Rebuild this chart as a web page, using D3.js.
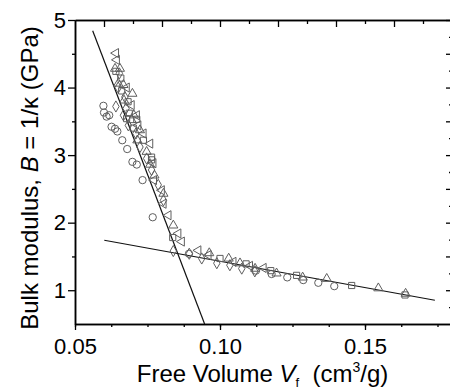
<!DOCTYPE html>
<html>
<head>
<meta charset="utf-8">
<script src="https://d3js.org/d3.v7.min.js"></script>
<style>
body { margin: 0; background: #fff; }
svg { display: block; font-family: "Liberation Sans", Arial, sans-serif; }
.pt { fill: #fff; fill-opacity: 0; stroke: #5e5e5e; stroke-width: 1; }
</style>
</head>
<body>
<div id="chart"></div>
<script>
// data: [free volume, bulk modulus]
var circleData = [[0.0598,3.73],[0.0600,3.63],[0.0609,3.57],[0.0618,3.59],[0.0626,3.42],[0.0638,3.39],
  [0.0646,3.35],[0.0663,3.22],[0.0680,3.09],[0.0698,2.90],[0.0713,2.86],[0.0733,2.63],[0.0768,2.08],
  [0.0893,1.54],[0.1124,1.29],[0.1178,1.24],[0.1232,1.19],[0.1287,1.15],[0.1339,1.11],[0.1394,1.06]];
var upTriData = [[0.0638,4.28],[0.0655,4.28],[0.0649,4.06],[0.0667,4.04],[0.0698,3.91],[0.0669,3.81],
  [0.0703,3.59],[0.0695,3.52],[0.0724,3.37],[0.0715,3.22],[0.0747,3.05],[0.0759,2.86],[0.0774,2.70],
  [0.0805,2.43],[0.0839,1.96],[0.0963,1.55],[0.1030,1.47],[0.1069,1.40],[0.1121,1.32],[0.1195,1.25],
  [0.1285,1.19],[0.1368,1.17],[0.1546,1.03],[0.1640,0.95]];
var leftTriData = [[0.0641,4.51],[0.0644,4.41],[0.0678,4.00],[0.0695,3.74],[0.0713,3.59],[0.0718,3.44],
  [0.0736,3.32],[0.0759,3.17],[0.0770,2.88],[0.0772,2.63],[0.0799,2.48],[0.0805,2.28],[0.0822,2.11],
  [0.0856,1.84],[0.0868,1.72],[0.0925,1.59],[0.0960,1.52],[0.1046,1.42],[0.1103,1.36],[0.1150,1.33]];
var diamondData = [[0.0641,3.72],[0.0653,4.21],[0.0649,4.00],[0.0672,3.86],[0.0676,3.69],[0.0667,3.59],
  [0.0684,3.44],[0.0710,3.32],[0.0724,3.12],[0.0747,2.95],[0.0764,2.78],[0.0787,2.56],[0.0805,2.33],
  [0.0839,1.58],[0.0894,1.54],[0.0937,1.47],[0.0989,1.40],[0.1034,1.37],[0.1075,1.32],[0.1120,1.28]];
var squareData = [[0.0641,4.24],[0.0658,4.14],[0.0661,3.95],[0.0683,3.79],[0.0687,3.62],[0.0678,3.54],
  [0.0713,3.53],[0.0701,3.40],[0.0736,3.22],[0.0764,2.97],[0.0764,2.93],[0.0837,1.78],[0.1000,1.47],
  [0.1090,1.39],[0.1175,1.29],[0.1264,1.22],[0.1454,1.07],[0.1638,0.93]];
var steepLine = [[0.0561,4.84],[0.0947,0.5]];
var flatLine = [[0.0601,1.74],[0.1741,0.852]];
var xTicks = [0.05, 0.10, 0.15];
var yTicks = [1, 2, 3, 4, 5];

var W = 450, H = 389;
var margin = {top: 20, left: 75},
    width = 377, height = 304;

var svg = d3.select("#chart").append("svg")
  .attr("width", W).attr("height", H);

var x = d3.scaleLinear().domain([0.05, 0.18]).range([0, width]),
    y = d3.scaleLinear().domain([0.5, 5]).range([height, 0]);

var g = svg.append("g")
  .attr("transform", "translate(" + margin.left + "," + margin.top + ")");

function styleAxis(sel) {
  sel.select(".domain").attr("stroke", "#000").attr("stroke-width", 1.5);
  sel.selectAll("line").attr("stroke", "#000").attr("stroke-width", 1.3);
  sel.selectAll("text").attr("fill", "#000").style("font-size", "22px")
    .style("font-family", '"Liberation Sans", Arial, sans-serif');
}

// minor ticks first
g.append("g").attr("transform", "translate(0," + height + ")")
  .call(d3.axisBottom(x).tickValues(d3.range(0.05, 0.1801, 0.0125)).tickSize(3).tickFormat("").tickSizeOuter(0))
  .call(styleAxis);
g.append("g")
  .call(d3.axisLeft(y).tickValues(d3.range(1.5, 5, 1)).tickSize(3).tickFormat("").tickSizeOuter(0))
  .call(styleAxis);

g.append("g").attr("transform", "translate(0," + height + ")")
  .call(d3.axisBottom(x).tickValues(xTicks).tickSize(6).tickPadding(8).tickSizeOuter(0)
    .tickFormat(d3.format(".2f")))
  .call(styleAxis);
g.append("g")
  .call(d3.axisLeft(y).tickValues(yTicks).tickSize(7).tickPadding(2).tickSizeOuter(0)
    .tickFormat(d3.format("d")))
  .call(styleAxis);

// top axis (ticks inward)
g.append("g")
  .call(d3.axisBottom(x).tickValues(d3.range(0.06, 0.1801, 0.02)).tickSize(7).tickFormat("").tickSizeOuter(0))
  .call(styleAxis);
g.append("g")
  .call(d3.axisBottom(x).tickValues(d3.range(0.07, 0.1801, 0.02)).tickSize(4).tickFormat("").tickSizeOuter(0))
  .call(styleAxis);

// right axis (ticks inward)
g.append("g").attr("transform", "translate(" + width + ",0)")
  .call(d3.axisLeft(y).tickValues(d3.range(1, 5.01, 0.5)).tickSize(6).tickFormat("").tickSizeOuter(0))
  .call(styleAxis);
g.append("g").attr("transform", "translate(" + width + ",0)")
  .call(d3.axisLeft(y).tickValues(d3.range(0.75, 5, 0.5)).tickSize(3).tickFormat("").tickSizeOuter(0))
  .call(styleAxis);

// fit lines
var line = d3.line().x(function(d) { return x(d[0]); }).y(function(d) { return y(d[1]); });
[steepLine, flatLine].forEach(function(l) {
  g.append("path").attr("d", line(l)).attr("fill", "none")
    .attr("stroke", "#111").attr("stroke-width", 1.2);
});

// markers
var series = [
  {data: circleData, sym: d3.symbolCircle, size: 42, rot: 0},
  {data: upTriData, sym: d3.symbolTriangle, size: 36, rot: 0},
  {data: leftTriData, sym: d3.symbolTriangle, size: 36, rot: -90},
  {data: diamondData, sym: d3.symbolDiamond, size: 36, rot: 0},
  {data: squareData, sym: d3.symbolSquare, size: 38, rot: 0}
];
series.forEach(function(s) {
  g.selectAll(null).data(s.data).enter().append("path")
    .attr("class", "pt")
    .attr("d", d3.symbol().type(s.sym).size(s.size))
    .attr("transform", function(d) {
      return "translate(" + x(d[0]) + "," + y(d[1]) + ") rotate(" + s.rot + ")";
    });
});

// axis titles
svg.append("text")
  .attr("x", margin.left + width / 2 - 1).attr("y", 382)
  .attr("text-anchor", "middle").style("font-size", "24px").attr("fill", "#000")
  .call(function(t) {
    t.append("tspan").text("Free Volume ");
    t.append("tspan").style("font-style", "italic").text("V");
    t.append("tspan").style("font-size", "13px").attr("dy", 5).text("f");
    t.append("tspan").attr("dy", -5).text("\u00a0 (cm");
    t.append("tspan").style("font-size", "14px").attr("dy", -10).text("3");
    t.append("tspan").attr("dy", 10).text("/g)");
  });

svg.append("text")
  .attr("transform", "translate(38," + (margin.top + height / 2 + 6) + ") rotate(-90)")
  .attr("text-anchor", "middle").style("font-size", "24px").attr("fill", "#000")
  .call(function(t) {
    t.append("tspan").text("Bulk modulus, ");
    t.append("tspan").style("font-style", "italic").text("B");
    t.append("tspan").text(" = 1/\u03ba (GPa)");
  });
</script>
</body>
</html>
